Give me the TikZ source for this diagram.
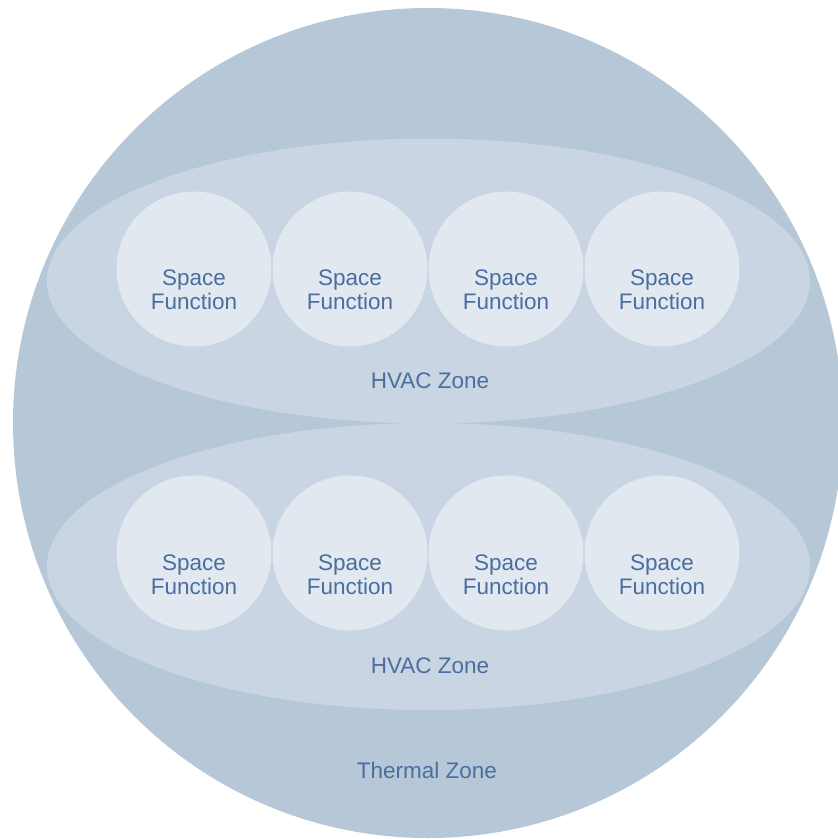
\documentclass[tikz,border=0pt]{standalone}
\usetikzlibrary{shapes.geometric}
\usepackage{fontspec}
\setmainfont{Liberation Sans}
\definecolor{outerc}{HTML}{B6C7D8}
\definecolor{ellc}{HTML}{C9D5E3}
\definecolor{innc}{HTML}{E1E8F0}
\definecolor{txtc}{HTML}{4A6E9F}
\begin{document}
\begin{tikzpicture}[x=1pt,y=-1pt,
  lbl/.style={text=txtc,font=\fontsize{22.5}{24}\selectfont,align=center,inner sep=0pt},
  hvac/.style={ellipse,fill=ellc,minimum width=763pt,inner sep=0pt},
  sfcircle/.style={circle,fill=innc,minimum size=155pt,inner sep=0pt}]
\useasboundingbox (0,0) rectangle (838,839);
\begin{scope}
\clip (0,0) rectangle (838,839);
\fill[outerc] (428,423) circle (415);
\end{scope}
\node[hvac,minimum height=285pt] (hv1) at (428.5,281) {};
\node[hvac,minimum height=287pt] (hv2) at (428.5,566.5) {};
\foreach \i/\x in {1/194,2/350,3/506,4/662}{
  \node[sfcircle] (a\i) at (\x,269) {};
  \node[lbl] (ta\i) at ([yshift=-21pt]a\i.center) {Space\\Function};
  \node[sfcircle] (b\i) at (\x,553) {};
  \node[lbl] (tb\i) at ([yshift=-22pt]b\i.center) {Space\\Function};
}
\node[lbl] (l1) at (430,381) {HVAC Zone};
\node[lbl] (l2) at (430,666) {HVAC Zone};
\node[lbl] (l3) at (427,770) {Thermal Zone};
\end{tikzpicture}
\end{document}
